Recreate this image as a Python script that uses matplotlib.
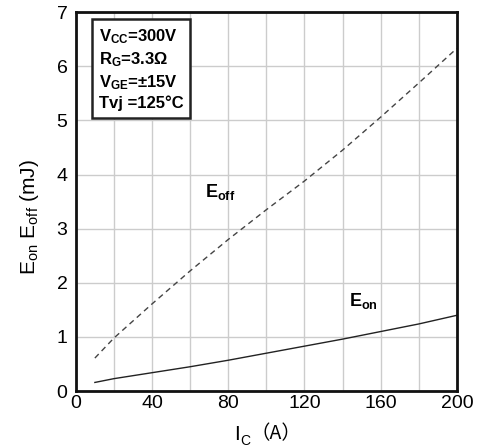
import matplotlib
matplotlib.use('Agg')
import matplotlib.pyplot as plt

# switching energy vs collector current
ic = [10, 20, 40, 60, 80, 100, 120, 140, 160, 180, 200]
e_off = [0.61, 0.98, 1.61, 2.22, 2.80, 3.35, 3.88, 4.45, 5.06, 5.69, 6.33]
e_on = [0.16, 0.23, 0.34, 0.45, 0.57, 0.70, 0.83, 0.96, 1.10, 1.24, 1.40]

x_ticks = [0, 40, 80, 120, 160, 200]
y_ticks = [0, 1, 2, 3, 4, 5, 6, 7]
cond_lines = ['V$_\\mathbf{CC}$=300V', 'R$_\\mathbf{G}$=3.3Ω',
              'V$_\\mathbf{GE}$=±15V', 'Tvj =125°C']

plt.rcParams['font.family'] = ['Liberation Sans', 'DejaVu Sans']
plt.rcParams['mathtext.fontset'] = 'custom'
plt.rcParams['mathtext.rm'] = 'Liberation Sans'
plt.rcParams['mathtext.it'] = 'Liberation Sans'
plt.rcParams['mathtext.bf'] = 'Liberation Sans:bold'

fig = plt.figure(figsize=(4.86, 4.48), dpi=100)
ax = fig.add_axes([0.156, 0.127, 0.784, 0.846])

ax.plot(ic, e_off, color='#444444', lw=1.0, dashes=(4, 3))
ax.plot(ic, e_on, color='#222222', lw=1.0)

ax.set_xlim(0, 200)
ax.set_ylim(0, 7)
ax.set_xticks(range(0, 201, 20), minor=True)
ax.set_xticks(x_ticks)
ax.set_yticks(y_ticks)
ax.grid(True, which='both', color='#cccccc', lw=1.0)
ax.set_axisbelow(True)
ax.tick_params(which='both', length=0, labelsize=14)
ax.tick_params(axis='y', pad=6)
ax.tick_params(axis='x', pad=3)
for s in ax.spines.values():
    s.set_linewidth(2)
    s.set_color('#111111')

ax.set_ylabel('E$_\\mathregular{on}$ E$_\\mathregular{off}$ (mJ)', fontsize=15)
ax.yaxis.set_label_coords(-0.092, 0.46)

# x label: I_C with full-width brackets
t_i = ax.text(0.415, -0.09, 'I', transform=ax.transAxes, fontsize=15,
              ha='left', va='top')
t_c = ax.annotate('C', xy=(1, 0), xycoords=t_i, xytext=(0.5, -3),
                  textcoords='offset points', fontsize=10, va='bottom')
ax.annotate('（A）', xy=(1, 0), xycoords=t_c, xytext=(0, 3),
            textcoords='offset points', fontsize=14, va='bottom',
            family=['Noto Sans CJK SC', 'DejaVu Sans'])

ax.text(0.06, 0.96, '\n'.join(cond_lines), transform=ax.transAxes,
        fontsize=12, fontweight='bold', va='top', ha='left', linespacing=1.3,
        bbox=dict(boxstyle='square,pad=0.4', fc='white', ec='#222222', lw=1.8))

ax.text(76, 3.68, 'E$_\\mathbf{off}$', fontsize=13, fontweight='bold',
        ha='center', va='center')
ax.text(151, 1.67, 'E$_\\mathbf{on}$', fontsize=13, fontweight='bold',
        ha='center', va='center')

fig.savefig('out.png', dpi=100)
